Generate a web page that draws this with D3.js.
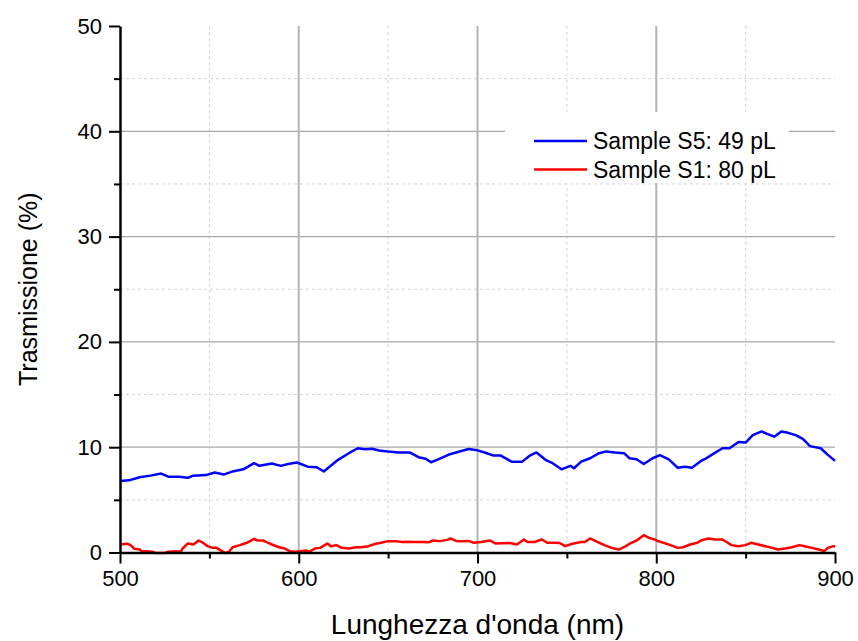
<!DOCTYPE html>
<html>
<head>
<meta charset="utf-8">
<script src="https://cdn.jsdelivr.net/npm/d3@7"></script>
<style>
  body { margin: 0; background: #fff; }
  svg { display: block; font-family: Arial, "Liberation Sans", sans-serif; }
</style>
</head>
<body>
<div class="canva"></div>
<script>
// wavelengths (nm) and transmission (%)
const blueNm = [500, 505, 511, 517, 523, 527, 533, 538, 541, 548, 553, 558, 563, 569, 575, 578, 585, 590, 594, 599,
  605, 610, 614, 622, 628, 633, 637, 641, 645, 650, 656, 662, 667, 671, 674, 678, 684, 689, 695, 700,
  704, 709, 713, 719, 725, 729, 733, 738, 742, 747, 752, 754, 758, 763, 768, 772, 777, 782, 785, 789,
  793, 798, 802, 807, 812, 816, 820, 825, 828, 831, 837, 841, 846, 850, 854, 859, 862, 866, 870, 873,
  878, 882, 886, 892, 896, 900];
const blueVal = [6.8, 6.85, 7.15, 7.3, 7.5, 7.2, 7.2, 7.1, 7.3, 7.35, 7.6, 7.4, 7.7, 7.9, 8.48, 8.23, 8.45, 8.23, 8.4, 8.55,
  8.15, 8.1, 7.7, 8.8, 9.43, 9.9, 9.8, 9.85, 9.68, 9.6, 9.5, 9.5, 9.05, 8.9, 8.57, 8.85, 9.3, 9.55, 9.83, 9.7,
  9.5, 9.2, 9.2, 8.63, 8.63, 9.17, 9.5, 8.8, 8.48, 7.9, 8.23, 8.0, 8.63, 8.95, 9.43, 9.6, 9.5, 9.43, 8.95, 8.85,
  8.4, 8.95, 9.24, 8.85, 8.05, 8.15, 8.05, 8.7, 8.95, 9.27, 9.9, 9.9, 10.5, 10.44, 11.15, 11.5, 11.26, 11.0, 11.5, 11.4,
  11.15, 10.8, 10.1, 9.9, 9.27, 8.7];

const redNm = [500, 504, 506, 508, 511, 512, 515, 518, 520, 525, 527, 531, 534, 535, 538, 541, 544, 547, 549, 552,
  554, 557, 559, 561, 563, 567, 571, 575, 577, 580, 582, 585, 589, 592, 595, 598, 601, 604, 606, 609,
  612, 616, 618, 621, 624, 628, 632, 635, 639, 643, 646, 650, 654, 658, 661, 665, 669, 673, 675, 679,
  683, 685, 688, 691, 695, 698, 702, 707, 710, 714, 718, 722, 726, 728, 732, 736, 739, 743, 746, 749,
  753, 758, 760, 763, 767, 771, 775, 779, 783, 786, 789, 793, 796, 799, 801, 804, 808, 812, 815, 819,
  823, 825, 829, 833, 837, 840, 842, 846, 850, 853, 857, 861, 865, 868, 872, 876, 880, 883, 887, 891,
  894, 896, 899, 900];
const redVal = [0.76, 0.83, 0.7, 0.35, 0.28, 0.13, 0.13, 0.07, -0.05, -0.05, 0.07, 0.13, 0.07, 0.38, 0.86, 0.76, 1.14, 0.86, 0.6, 0.44,
  0.44, 0.13, -0.05, 0.07, 0.5, 0.7, 0.92, 1.3, 1.14, 1.14, 0.98, 0.76, 0.5, 0.38, 0.13, 0.07, 0.13, 0.19, 0.07, 0.38,
  0.44, 0.86, 0.6, 0.7, 0.44, 0.38, 0.5, 0.5, 0.6, 0.83, 0.92, 1.08, 1.08, 1.0, 1.02, 1.0, 1.0, 0.98, 1.14, 1.08,
  1.2, 1.33, 1.1, 1.08, 1.1, 0.92, 1.0, 1.14, 0.86, 0.88, 0.9, 0.76, 1.24, 1.0, 1.0, 1.24, 0.92, 0.92, 0.9, 0.6,
  0.83, 1.0, 1.0, 1.33, 1.0, 0.7, 0.44, 0.28, 0.6, 0.92, 1.14, 1.65, 1.39, 1.24, 1.08, 0.92, 0.7, 0.44, 0.5, 0.76,
  0.92, 1.14, 1.33, 1.24, 1.24, 0.92, 0.7, 0.6, 0.7, 0.92, 0.76, 0.6, 0.44, 0.28, 0.38, 0.5, 0.7, 0.6, 0.44, 0.28,
  0.13, 0.44, 0.6, 0.6];

const seriesNames = ["Sample S5: 49 pL", "Sample S1: 80 pL"];
const seriesColors = ["#0000ff", "#ff0000"];

const xMajor = [500, 600, 700, 800, 900];
const xMinor = [550, 650, 750, 850];
const yMajor = [0, 10, 20, 30, 40, 50];
const yMinor = [5, 15, 25, 35, 45];

const xTitle = "Lunghezza d'onda (nm)";
const yTitle = "Trasmissione (%)";

const width = 858, height = 641;
const margin = {top: 26, right: 23, bottom: 88.5, left: 120};
const graphWidth = width - margin.left - margin.right;
const graphHeight = height - margin.top - margin.bottom;

const svg = d3.select(".canva").append("svg")
    .attr("width", width)
    .attr("height", height);

const mainCanvas = svg.append("g")
    .attr("transform", `translate(${margin.left}, ${margin.top})`);

const x = d3.scaleLinear().domain([500, 900]).range([0, graphWidth]);
const y = d3.scaleLinear().domain([0, 50]).range([graphHeight, 0]);

// grid: dashed minor, solid major
mainCanvas.append("g").selectAll("line")
    .data(yMinor).enter().append("line")
    .attr("x1", 0).attr("x2", graphWidth)
    .attr("y1", d => y(d)).attr("y2", d => y(d))
    .attr("stroke", "#d4d4d4").attr("stroke-width", 1)
    .attr("stroke-dasharray", "3,3");

mainCanvas.append("g").selectAll("line")
    .data(xMinor).enter().append("line")
    .attr("x1", d => x(d)).attr("x2", d => x(d))
    .attr("y1", 0).attr("y2", graphHeight)
    .attr("stroke", "#d4d4d4").attr("stroke-width", 1)
    .attr("stroke-dasharray", "3,3");

mainCanvas.append("g").selectAll("line")
    .data(yMajor.filter(d => d > 0 && d < 50)).enter().append("line")
    .attr("x1", 0).attr("x2", graphWidth)
    .attr("y1", d => y(d)).attr("y2", d => y(d))
    .attr("stroke", "#a8a8a8").attr("stroke-width", 1.2);

mainCanvas.append("g").selectAll("line")
    .data(xMajor.filter(d => d > 500 && d < 900)).enter().append("line")
    .attr("x1", d => x(d)).attr("x2", d => x(d))
    .attr("y1", 0).attr("y2", graphHeight)
    .attr("stroke", "#b4b4b4").attr("stroke-width", 2);

// the curves
const valueLine = d3.line()
    .x(d => x(d[0]))
    .y(d => y(d[1]));

const blueData = blueNm.map((d, i) => [d, blueVal[i]]);
const redData = redNm.map((d, i) => [d, redVal[i]]);

[blueData, redData].forEach((data, k) => {
    mainCanvas.append("path")
        .datum(data)
        .attr("fill", "none")
        .attr("stroke", seriesColors[k])
        .attr("stroke-width", 2.5)
        .attr("stroke-linejoin", "round")
        .attr("d", valueLine);
});

// axes
mainCanvas.append("g")
    .attr("transform", `translate(0, ${graphHeight})`)
    .call(d3.axisBottom(x).tickValues(xMajor).tickFormat(d3.format("d")).tickSize(11).tickSizeOuter(0).tickPadding(7));

mainCanvas.append("g")
    .attr("transform", `translate(0, ${graphHeight})`)
    .call(d3.axisBottom(x).tickValues(xMinor).tickFormat("").tickSize(6).tickSizeOuter(0))
    .select(".domain").remove();

mainCanvas.append("g")
    .call(d3.axisLeft(y).tickValues(yMajor).tickSize(11).tickSizeOuter(0).tickPadding(7));

mainCanvas.append("g")
    .call(d3.axisLeft(y).tickValues(yMinor).tickFormat("").tickSize(6).tickSizeOuter(0))
    .select(".domain").remove();

mainCanvas.selectAll(".domain").attr("stroke", "#000").attr("stroke-width", 2.5);
mainCanvas.selectAll(".tick line").attr("stroke", "#000").attr("stroke-width", 2);
mainCanvas.selectAll(".tick text")
    .attr("fill", "#000")
    .style("font-size", "22px")
    .style("font-family", "Arial, 'Liberation Sans', sans-serif");

// axis titles
svg.append("text")
    .attr("x", margin.left + graphWidth / 2)
    .attr("y", 634)
    .attr("text-anchor", "middle")
    .style("font-size", "28px")
    .text(xTitle);

svg.append("text")
    .attr("transform", `translate(37, ${margin.top + graphHeight / 2}) rotate(-90)`)
    .attr("text-anchor", "middle")
    .style("font-size", "25px")
    .text(yTitle);

// legend with white box
const legend = svg.append("g").attr("transform", "translate(505, 112)");
legend.append("rect")
    .attr("width", 284).attr("height", 71)
    .attr("fill", "#fff");

seriesNames.forEach((name, k) => {
    const ly = 29 + k * 28.5;
    legend.append("line")
        .attr("x1", 29).attr("x2", 82)
        .attr("y1", ly).attr("y2", ly)
        .attr("stroke", seriesColors[k]).attr("stroke-width", 2.5);
    legend.append("text")
        .attr("x", 88).attr("y", ly + 8)
        .style("font-size", "23px")
        .text(name);
});
</script>
</body>
</html>
